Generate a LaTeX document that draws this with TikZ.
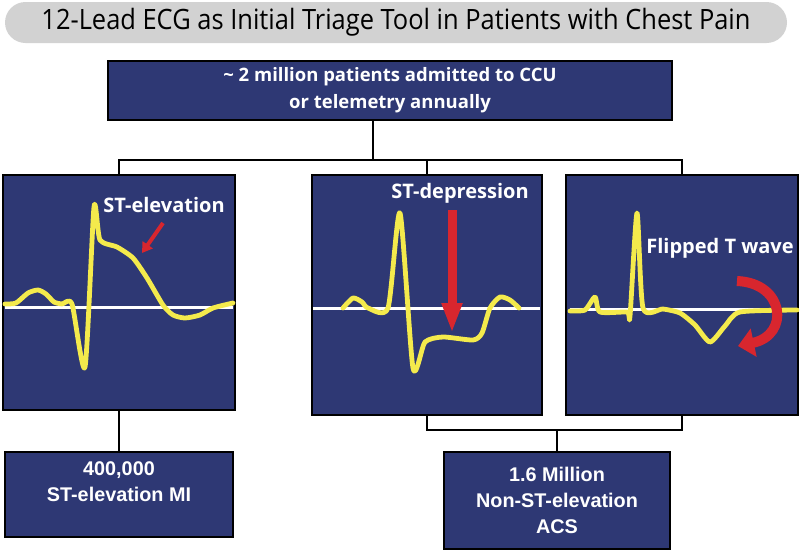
\documentclass[tikz,border=0pt]{standalone}
\usepackage{fontspec}
\usepackage{graphicx}
\setmainfont{Open Sans}
\newfontfamily\arialfont{Liberation Sans}
\usetikzlibrary{arrows.meta, positioning}

\definecolor{ecgnavy}{HTML}{2E3874}
\definecolor{ecgyellow}{HTML}{F4EA4C}
\definecolor{ecgred}{HTML}{D8262E}
\definecolor{pillgray}{HTML}{D2D2D2}

\begin{document}
\begin{tikzpicture}[x=1pt, y=-1pt,
  box/.style={draw=black, line width=1.5pt, fill=ecgnavy, text=white, align=center, inner sep=0pt},
  panel/.style={box, minimum width=#1},
  link/.style={draw=black, line width=1.8pt},
  isoline/.style={white, line width=3pt},
  trace/.style={ecgyellow, line width=4.8pt, line join=round, line cap=round},
  tag/.style={text=white, inner sep=0pt, font=\fontsize{20}{22}\selectfont\bfseries},
  pointer/.style={ecgred, line width=4pt, -{Triangle[length=10pt,width=12pt]}}]
\useasboundingbox (0,0) rectangle (800,552);
\node[fill=pillgray, rounded corners=20.5pt, minimum width=782pt, minimum height=41pt, inner sep=0pt,
  font=\fontsize{28}{30}\selectfont] (title) at (396,22.5)
  {\resizebox{709pt}{\height}{12-Lead ECG as Initial Triage Tool in Patients with Chest Pain}};
\node[box, minimum width=564pt, minimum height=59pt, font=\fontsize{18.5}{27}\selectfont\bfseries] (total) at (390,90.5)
  {\textasciitilde{} 2 million patients admitted to CCU\\or telemetry annually};
\node[panel=232pt, minimum height=235pt] (stemi) at (119,292.5) {};
\node[panel=230pt, minimum height=240pt] (nstemi) at (427,295) {};
\node[panel=232pt, minimum height=240pt] (twave) at (682,295) {};
\node[box, minimum width=228pt, minimum height=85pt, font=\arialfont\fontsize{19.8}{25.5}\selectfont\bfseries] (stemiN) at (119,494.5)
  {400,000\\ST-elevation MI\\\mbox{}};
\node[box, minimum width=226pt, minimum height=97pt, font=\arialfont\fontsize{19.8}{26}\selectfont\bfseries] (nsteN) at (557,500.5)
  {1.6 Million\\Non-ST-elevation\\ACS};
\coordinate (bus) at (373,160);
\coordinate (merge) at (557,430);
\draw[link] (total.south -| bus) -- (bus);
\draw[link] (stemi.north) |- (bus) -| (twave.north);
\draw[link] (bus -| nstemi.north) -- (nstemi.north);
\draw[link] (stemi.south) -- (stemiN.north);
\draw[link] (nstemi.south) |- (merge) -| (twave.south);
\draw[link] (merge) -- (nsteN.north);
\draw[isoline] (5,307) -- (233,307);
\draw[trace] plot[smooth, tension=0.4] coordinates {(5,304) (16,303) (28,293) (38,290) (46,294) (54,302) (62,304) (72,304)
  (85,367) (94,207) (100,240) (117,247) (133,258) (147,278) (163,305) (173,315) (185,318) (200,315) (213,308) (233,303)};
\draw[pointer] (163,223) -- (142,253);
\node[tag] (elev) at (164,205) {ST-elevation};
\draw[isoline] (313,308) -- (540,308);
\draw[trace] plot[smooth, tension=0.4] coordinates {(343,308) (353,298) (362,302) (368,308) (388,308) (400,213) (413,368)
  (425,342) (443,337) (473,340) (482,333) (490,308) (500,297) (510,300) (519,308)};
\draw[ecgred, line width=9pt, -{Triangle[length=30pt,width=19pt]}] (452,210) -- (452,333);
\node[tag] (depr) at (460,193) {ST-depression};
\draw[isoline] (570,309) -- (797,309);
\draw[trace] plot[smooth, tension=0.4] coordinates {(570,311) (585,310) (595,297) (600,312) (627,312) (630,316) (637,213)
  (643,308) (663,309) (680,313) (695,325) (710,342) (725,326) (740,312) (797,310)};
\draw[ecgred, line width=10pt, -{Triangle[length=16pt,width=28pt]}] (737,281) .. controls (785,283) and (790,335) .. (738,346);
\node[tag] (flip) at (720,248) {Flipped T wave};
\end{tikzpicture}
\end{document}
